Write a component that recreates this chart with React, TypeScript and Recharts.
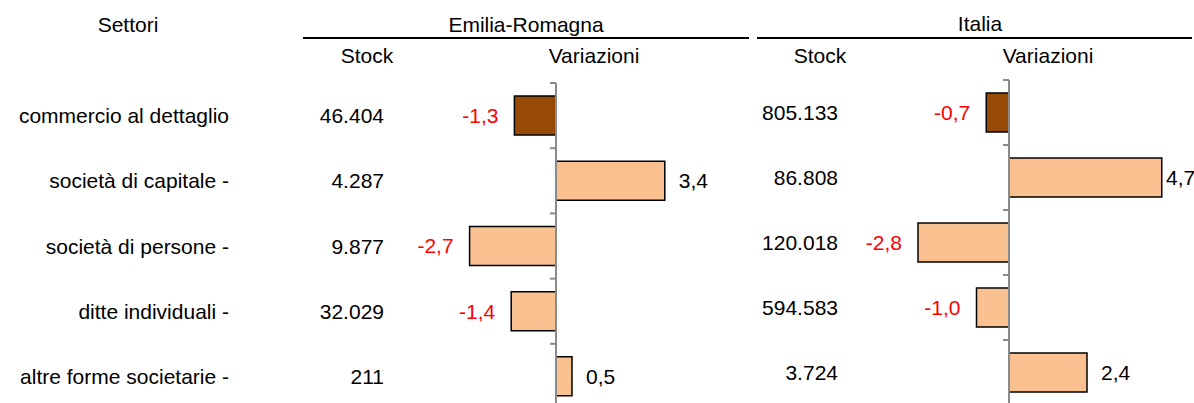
import { Bar, BarChart, Cell, LabelList, ReferenceLine, XAxis, YAxis } from 'recharts';

// Imprese per forma giuridica: stock e variazioni %, Emilia-Romagna vs Italia

const sectors = [
  'commercio al dettaglio',
  'società di capitale -',
  'società di persone -',
  'ditte individuali -',
  'altre forme societarie -',
];
const stockER = [46404, 4287, 9877, 32029, 211];
const changeER = [-1.3, 3.4, -2.7, -1.4, 0.5];
const stockIT = [805133, 86808, 120018, 594583, 3724];
const changeIT = [-0.7, 4.7, -2.8, -1.0, 2.4];

const FONT = '"Liberation Sans", Arial, sans-serif';
const FS = 21;
const BROWN = '#974a06';
const PEACH = '#f9c18f';
const AXIS = '#8a8a8a';

const erRows = sectors.map((sector, i) => ({ sector, stock: stockER[i], change: changeER[i] }));
const itRows = sectors.map((sector, i) => ({ sector, stock: stockIT[i], change: changeIT[i] }));

const fmtStock = (n: number) => String(n).replace(/\B(?=(\d{3})+(?!\d))/g, '.');
const fmtChange = (n: number) => n.toFixed(1).replace('.', ',');

// zero axis with small ticks between categories (Excel style)
function ZeroAxis(props: any) {
  const { x1, y1, y2 } = props;
  const n = sectors.length;
  const step = (y2 - y1) / n;
  const ticks = [];
  for (let k = 0; k <= n; k++) {
    const y = y1 + k * step;
    ticks.push(<line key={k} x1={x1 - 6} x2={x1} y1={y} y2={y} stroke={AXIS} strokeWidth={2} />);
  }
  return (
    <g>
      <line x1={x1} x2={x1} y1={y1} y2={y2} stroke={AXIS} strokeWidth={2} />
      {ticks}
    </g>
  );
}

function makeChangeLabel(maxX: number) {
  return (props: any) => {
    const vb = props.viewBox || props;
    const { x, y, width, height } = vb;
    const v = Number(props.value);
    const left = Math.min(x, x + width);
    const right = Math.max(x, x + width);
    const cy = y + height / 2;
    if (v < 0) {
      return (
        <text x={left - 16} y={cy} textAnchor="end" dominantBaseline="central" fill="#ff0000" fontSize={FS} fontFamily={FONT}>
          {fmtChange(v)}
        </text>
      );
    }
    return (
      <text x={Math.min(right + 14, maxX)} y={cy} textAnchor="start" dominantBaseline="central" fill="#000" fontSize={FS} fontFamily={FONT}>
        {fmtChange(v)}
      </text>
    );
  };
}

function ErTick(props: any) {
  const { y, payload, index } = props;
  return (
    <g fontSize={FS} fontFamily={FONT} fill="#000">
      <text x={229} y={y} textAnchor="end" dominantBaseline="central">{payload.value}</text>
      <text x={384} y={y} textAnchor="end" dominantBaseline="central">{fmtStock(erRows[index].stock)}</text>
    </g>
  );
}

function ItTick(props: any) {
  const { y, index } = props;
  return (
    <text x={88} y={y} textAnchor="end" dominantBaseline="central" fontSize={FS} fontFamily={FONT} fill="#000">
      {fmtStock(itRows[index].stock)}
    </text>
  );
}

function Headers() {
  const t = { fontSize: FS, fontFamily: FONT, fill: '#000' } as const;
  return (
    <svg width={1194} height={80} style={{ position: 'absolute', left: 0, top: 0 }}>
      <text x={128} y={32} textAnchor="middle" {...t}>Settori</text>
      <text x={526} y={32} textAnchor="middle" {...t}>Emilia-Romagna</text>
      <text x={980} y={31} textAnchor="middle" {...t}>Italia</text>
      <line x1={303} x2={749} y1={38} y2={38} stroke="#000" strokeWidth={2} />
      <line x1={757} x2={1192} y1={38} y2={38} stroke="#000" strokeWidth={2} />
      <text x={367} y={63} textAnchor="middle" {...t}>Stock</text>
      <text x={594} y={63} textAnchor="middle" {...t}>Variazioni</text>
      <text x={820} y={63} textAnchor="middle" {...t}>Stock</text>
      <text x={1048} y={63} textAnchor="middle" {...t}>Variazioni</text>
    </svg>
  );
}

export default function App() {
  return (
    <div style={{ position: 'absolute', left: 0, top: 0, width: 1194, height: 403, overflow: 'hidden', background: '#fff' }}>
      <Headers />
      <div style={{ position: 'absolute', left: 0, top: 0 }}>
        <BarChart width={750} height={420} data={erRows} layout="vertical" barCategoryGap="20%"
          margin={{ top: 83, right: 2, bottom: 11, left: 0 }}>
          <XAxis type="number" domain={[-5, 6]} allowDataOverflow hide />
          <YAxis type="category" dataKey="sector" width={396} axisLine={false} tickLine={false} tick={<ErTick />} interval={0} />
          <Bar dataKey="change" stroke="#000" strokeWidth={1.5} isAnimationActive={false}>
            {erRows.map((r, i) => <Cell key={r.sector} fill={i === 0 ? BROWN : PEACH} />)}
            <LabelList dataKey="change" content={makeChangeLabel(725)} />
          </Bar>
          <ReferenceLine x={0} shape={ZeroAxis} ifOverflow="visible" />
        </BarChart>
      </div>
      <div style={{ position: 'absolute', left: 750, top: 0 }}>
        <BarChart width={444} height={420} data={itRows} layout="vertical" barCategoryGap="20%"
          margin={{ top: 80, right: 6.25, bottom: 15, left: 0 }}>
          <XAxis type="number" domain={[-5, 5.5]} allowDataOverflow hide />
          <YAxis type="category" dataKey="sector" width={96.5} axisLine={false} tickLine={false} tick={<ItTick />} interval={0} />
          <Bar dataKey="change" stroke="#000" strokeWidth={1.5} isAnimationActive={false}>
            {itRows.map((r, i) => <Cell key={r.sector} fill={i === 0 ? BROWN : PEACH} />)}
            <LabelList dataKey="change" content={makeChangeLabel(416)} />
          </Bar>
          <ReferenceLine x={0} shape={ZeroAxis} ifOverflow="visible" />
        </BarChart>
      </div>
    </div>
  );
}
